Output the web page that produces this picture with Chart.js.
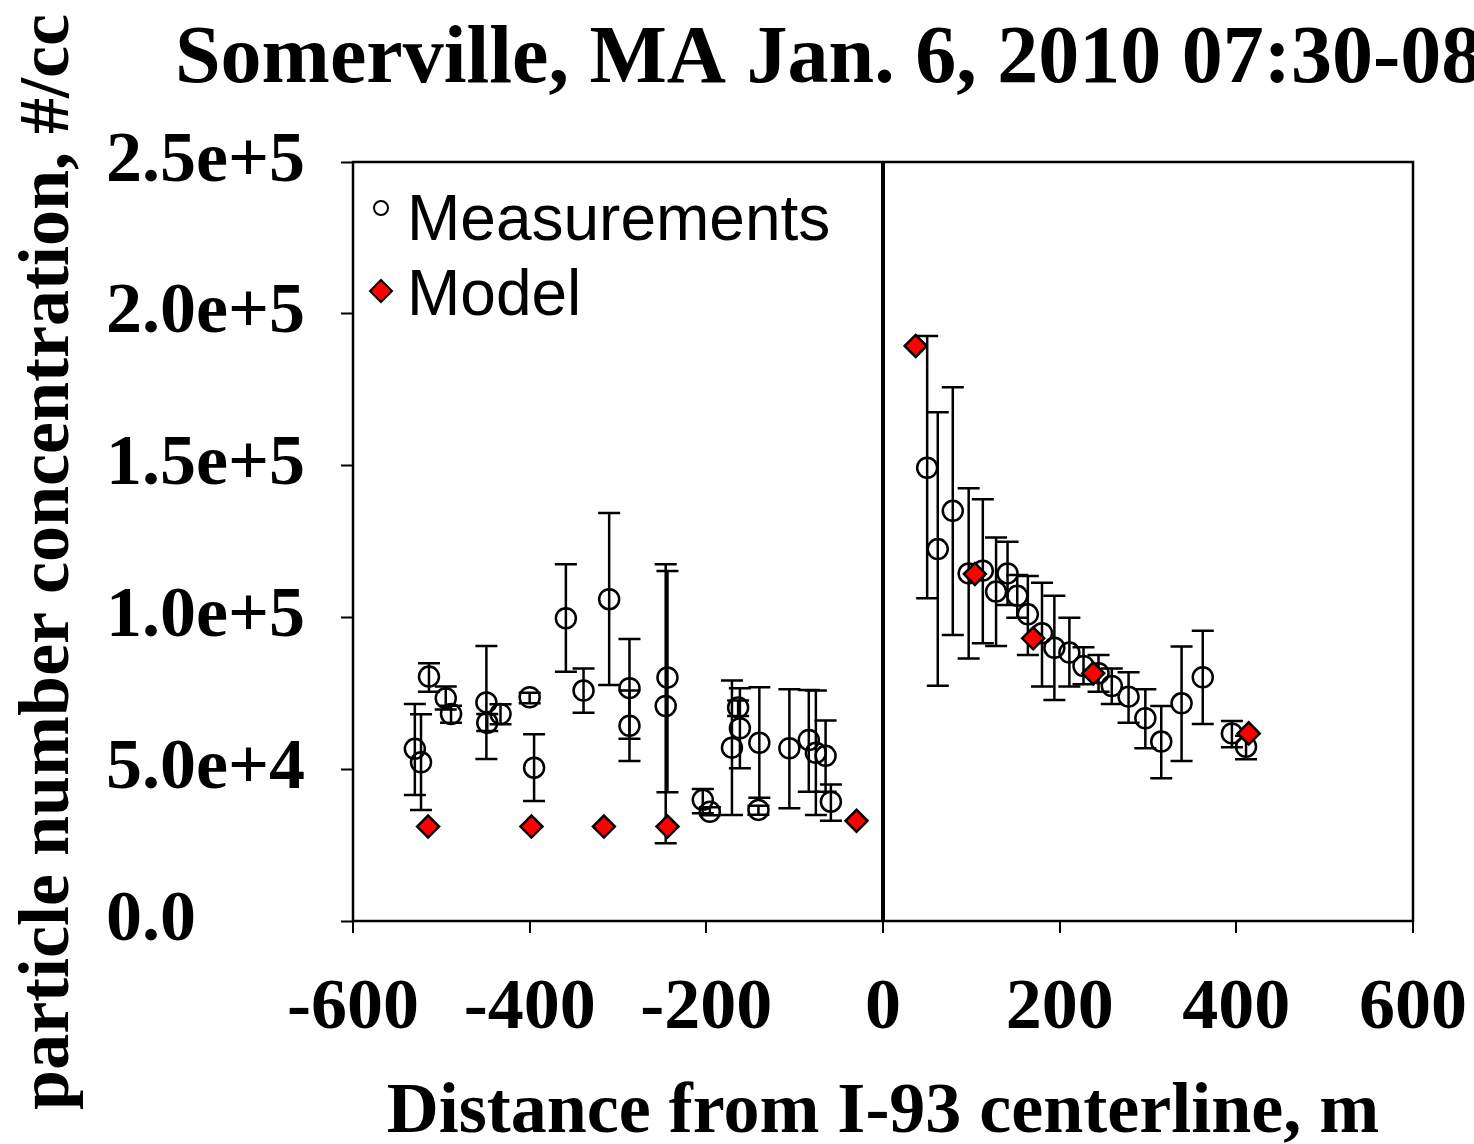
<!DOCTYPE html>
<html>
<head>
<meta charset="utf-8">
<title>Somerville particle number concentration</title>
<script src="https://cdn.jsdelivr.net/npm/chart.js@4.4.1/dist/chart.umd.min.js"></script>
<style>
  html, body { margin: 0; padding: 0; background: #fff; }
  #wrap { width: 1474px; height: 1144px; }
</style>
</head>
<body>
<div id="wrap"><canvas id="ufpChart" width="1474" height="1144"></canvas></div>
<script>
// measurements: distance (m), mean, upper and lower error bar (#/cc)
const measX = [-530, -523, -514, -495, -489, -449, -448, -433, -400, -395,
  -359, -339, -310, -287, -287, -244, -246, -204, -196, -171,
  -162, -164, -140, -141, -106, -84, -76, -65, -59,
  50, 62, 79, 97, 113, 128, 141, 152, 164, 180,
  194, 211, 227, 244, 259, 278, 297, 315, 338, 362, 395, 411];
const measY = [56700, 52300, 80500, 73400, 68200, 72000, 65300, 68200, 73700, 50500,
  99700, 75900, 106000, 76700, 64300, 80200, 70800, 39900, 36000, 57100,
  63500, 70300, 58700, 36600, 56900, 59600, 55400, 54400, 39300,
  149300, 122500, 135100, 114500, 115400, 108500, 114500, 107100, 101000, 94800,
  90000, 88400, 84000, 81600, 77400, 73900, 66800, 59100, 71700, 80300, 61800, 57400];
const measHi = [71500, 68100, 84900, 77200, 70900, 90600, 68200, 71400, 75200, 61500,
  117500, 83200, 134400, 92900, 75900, 115300, 117500, 43500, 37500, 79200,
  76700, 72600, 77000, 38000, 76300, 76100, 75900, 66000, 45000,
  192700, 167600, 175800, 142500, 138900, 126300, 124900, 114000, 113600, 111400,
  107100, 99900, 90200, 87600, 83200, 81900, 76300, 70800, 90400, 95600, 65900, 61000];
const measLo = [41500, 36600, 75500, 69700, 65300, 53400, 62600, 64800, 71700, 39500,
  82100, 68600, 77700, 52700, 60000, 42400, 25600, 35500, 34800, 34900,
  50300, 67500, 40600, 35000, 37100, 42600, 34900, 42600, 33000,
  106300, 77500, 94200, 86500, 91500, 90600, 104100, 99900, 87600, 77200,
  72800, 77200, 78000, 75500, 71500, 65300, 56900, 47000, 52700, 64900, 57200, 53300];

// model predictions
const modelX = [-515, -398, -316, -244, -30, 37, 104, 170, 238, 414];
const modelY = [31100, 31100, 31100, 31100, 33000, 189400, 114300, 93100, 81600, 61800];

const xTickLabels = ['-600', '-400', '-200', '0', '200', '400', '600'];
const yTickLabels = ['0.0', '5.0e+4', '1.0e+5', '1.5e+5', '2.0e+5', '2.5e+5'];

const serif = "'Liberation Serif', 'Times New Roman', serif";
const sans = "'Liberation Sans', Arial, sans-serif";

// vertical error bars for the measurements, drawn under the markers
const errorBars = {
  id: 'errorBars',
  beforeDatasetsDraw(chart) {
    const { ctx, scales: { x, y } } = chart;
    const cap = 11;
    ctx.save();
    ctx.strokeStyle = '#000';
    ctx.lineWidth = 2.5;
    for (let i = 0; i < measX.length; i++) {
      const px = x.getPixelForValue(measX[i]);
      const top = y.getPixelForValue(measHi[i]);
      const bot = y.getPixelForValue(measLo[i]);
      ctx.beginPath();
      ctx.moveTo(px, top); ctx.lineTo(px, bot);
      ctx.moveTo(px - cap, top); ctx.lineTo(px + cap, top);
      ctx.moveTo(px - cap, bot); ctx.lineTo(px + cap, bot);
      ctx.stroke();
    }
    ctx.restore();
  }
};

// box round the plot, titles and the legend in the top-left corner
const decorations = {
  id: 'decorations',
  beforeDatasetsDraw(chart) {
    const { ctx, chartArea: a } = chart;
    ctx.save();
    ctx.strokeStyle = '#000';
    ctx.lineWidth = 2.5;
    ctx.strokeRect(a.left, a.top, a.right - a.left, a.bottom - a.top);
    ctx.restore();
  },
  afterDraw(chart) {
    const { ctx } = chart;
    ctx.save();
    ctx.fillStyle = '#000';
    ctx.textBaseline = 'alphabetic';

    ctx.font = 'bold 82px ' + serif;
    ctx.textAlign = 'left';
    ctx.fillText('Somerville, MA Jan. 6, 2010 07:30-08:30', 175, 82);

    ctx.save();
    ctx.translate(68, 562);
    ctx.rotate(-Math.PI / 2);
    ctx.font = 'bold 72px ' + serif;
    ctx.textAlign = 'center';
    ctx.fillText('particle number concentration, #/cc', 0, 0);
    ctx.restore();

    // legend
    const ds = chart.data.datasets;
    ctx.font = '64px ' + sans;
    ctx.textAlign = 'left';
    ctx.fillText(ds[0].label, 407, 240);
    ctx.fillText(ds[1].label, 407, 315);

    ctx.lineWidth = 2;
    ctx.strokeStyle = '#000';
    ctx.beginPath();
    ctx.arc(381, 208, 7, 0, Math.PI * 2);
    ctx.stroke();

    ctx.beginPath();
    ctx.moveTo(381, 280); ctx.lineTo(392, 291); ctx.lineTo(381, 302); ctx.lineTo(370, 291);
    ctx.closePath();
    ctx.fillStyle = ds[1].backgroundColor;
    ctx.fill();
    ctx.stroke();
    ctx.restore();
  }
};

new Chart(document.getElementById('ufpChart'), {
  type: 'scatter',
  data: {
    datasets: [{
      label: 'Measurements',
      data: measX.map((v, i) => ({ x: v, y: measY[i] })),
      pointStyle: 'circle',
      pointRadius: 10,
      borderWidth: 2.5,
      borderColor: '#000',
      backgroundColor: 'rgba(0,0,0,0)',
      order: 1
    }, {
      label: 'Model',
      data: modelX.map((v, i) => ({ x: v, y: modelY[i] })),
      pointStyle: 'rectRot',
      pointRadius: 11,
      borderWidth: 2.5,
      borderColor: '#000',
      backgroundColor: '#ff0000',
      order: 0
    }]
  },
  options: {
    responsive: false,
    animation: false,
    devicePixelRatio: 1,
    layout: { padding: { left: 106, top: 162, right: 61, bottom: 0 } },
    plugins: {
      legend: { display: false },
      tooltip: { enabled: false }
    },
    scales: {
      x: {
        type: 'linear',
        min: -600,
        max: 600,
        afterFit: (s) => { s.height = 223; s.paddingLeft = 0; s.paddingRight = 0; },
        border: { display: false },
        grid: {
          drawOnChartArea: true,
          color: (c) => (c.tick && c.tick.value === 0 ? '#000' : 'rgba(0,0,0,0)'),
          lineWidth: (c) => (c.tick && c.tick.value === 0 ? 4 : 2),
          tickColor: '#000',
          tickWidth: 2,
          tickLength: 12
        },
        ticks: {
          stepSize: 200,
          padding: 33,
          color: '#000',
          font: { family: serif, size: 72, weight: 'bold' },
          callback: (v, i) => xTickLabels[i]
        },
        title: {
          display: true,
          text: 'Distance from I-93 centerline, m',
          color: '#000',
          padding: 0,
          font: { family: serif, size: 72, weight: 'bold', lineHeight: 0.85 }
        }
      },
      y: {
        min: 0,
        max: 250000,
        afterFit: (s) => { s.width = 247; s.paddingTop = 0; s.paddingBottom = 0; },
        border: { display: false },
        grid: {
          drawOnChartArea: false,
          tickColor: '#000',
          tickWidth: 2,
          tickLength: 12
        },
        ticks: {
          stepSize: 50000,
          crossAlign: 'far',
          color: '#000',
          font: { family: serif, size: 72, weight: 'bold' },
          callback: (v, i) => yTickLabels[i]
        }
      }
    }
  },
  plugins: [errorBars, decorations]
});
</script>
</body>
</html>
